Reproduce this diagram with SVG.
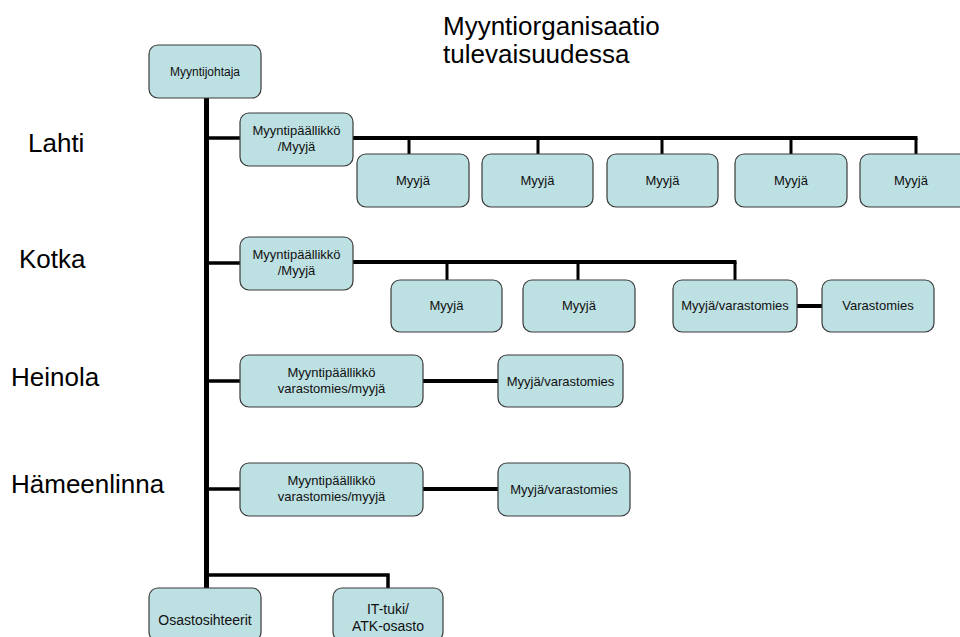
<svg xmlns="http://www.w3.org/2000/svg" width="960" height="637" viewBox="0 0 960 637">
<style>
.box{fill:#bde0e2;stroke:#3a3a3a;stroke-width:1.2}
.t{font-family:"Liberation Sans",Arial,sans-serif;font-size:13px;fill:#111;text-anchor:middle}
.big{font-family:"Liberation Sans",Arial,sans-serif;font-size:26px;fill:#000}
.ln{stroke:#000;fill:none;stroke-linecap:butt;stroke-linejoin:miter}
</style>
<rect width="960" height="637" fill="#fff"/>
<g id="labels">
<text class="big" x="443" y="35">Myyntiorganisaatio</text>
<text class="big" x="443" y="63">tulevaisuudessa</text>
<text class="big" x="28" y="152">Lahti</text>
<text class="big" x="19" y="268">Kotka</text>
<text class="big" x="11" y="386">Heinola</text>
<text class="big" x="11" y="493">Hämeenlinna</text>
</g>
<g id="connectors">
<line class="ln" x1="206.5" y1="98" x2="206.5" y2="588" stroke-width="5"/>
<line class="ln" x1="206" y1="138" x2="240" y2="138" stroke-width="3.5"/>
<line class="ln" x1="206" y1="263" x2="240" y2="263" stroke-width="3.5"/>
<line class="ln" x1="206" y1="381" x2="240" y2="381" stroke-width="3.5"/>
<line class="ln" x1="206" y1="489" x2="240" y2="489" stroke-width="3.5"/>
<polyline class="ln" points="206,575 388,575 388,588" stroke-width="3.5"/>
<line class="ln" x1="353" y1="138" x2="917.5" y2="138" stroke-width="4"/>
<line class="ln" x1="409" y1="138" x2="409" y2="154" stroke-width="3"/>
<line class="ln" x1="538" y1="138" x2="538" y2="154" stroke-width="3"/>
<line class="ln" x1="662" y1="138" x2="662" y2="154" stroke-width="3"/>
<line class="ln" x1="791" y1="138" x2="791" y2="154" stroke-width="3"/>
<line class="ln" x1="916" y1="138" x2="916" y2="154" stroke-width="3"/>
<line class="ln" x1="353" y1="262" x2="736.5" y2="262" stroke-width="4"/>
<line class="ln" x1="447" y1="262" x2="447" y2="280" stroke-width="3"/>
<line class="ln" x1="578" y1="262" x2="578" y2="280" stroke-width="3"/>
<line class="ln" x1="735" y1="262" x2="735" y2="280" stroke-width="3"/>
<line class="ln" x1="797" y1="306" x2="822" y2="306" stroke-width="4"/>
<line class="ln" x1="423" y1="381" x2="498" y2="381" stroke-width="4"/>
<line class="ln" x1="423" y1="489" x2="498" y2="489" stroke-width="4"/>
</g>
<g id="n-myyntijohtaja"><rect class="box" x="149" y="45" width="112" height="53" rx="9"/><text class="t" x="205" y="76" style="font-size:12px">Myyntijohtaja</text></g>
<g id="n-lahti-mp"><rect class="box" x="240" y="113" width="113" height="53" rx="9"/><text class="t" x="296.5" y="135">Myyntipäällikkö</text><text class="t" x="296.5" y="151">/Myyjä</text></g>
<g id="n-lahti-m1"><rect class="box" x="357" y="154" width="112" height="53" rx="9"/><text class="t" x="413" y="185">Myyjä</text></g>
<g id="n-lahti-m2"><rect class="box" x="482" y="154" width="111" height="53" rx="9"/><text class="t" x="537.5" y="185">Myyjä</text></g>
<g id="n-lahti-m3"><rect class="box" x="607" y="154" width="111" height="53" rx="9"/><text class="t" x="662.5" y="185">Myyjä</text></g>
<g id="n-lahti-m4"><rect class="box" x="735" y="154" width="112" height="53" rx="9"/><text class="t" x="791" y="185">Myyjä</text></g>
<g id="n-lahti-m5"><rect class="box" x="860" y="154" width="112" height="53" rx="9"/><text class="t" x="911" y="185">Myyjä</text></g>
<g id="n-kotka-mp"><rect class="box" x="240" y="237" width="113" height="53" rx="9"/><text class="t" x="296.5" y="259">Myyntipäällikkö</text><text class="t" x="296.5" y="275">/Myyjä</text></g>
<g id="n-kotka-m1"><rect class="box" x="391" y="280" width="111" height="52" rx="9"/><text class="t" x="446.5" y="310">Myyjä</text></g>
<g id="n-kotka-m2"><rect class="box" x="523" y="280" width="112" height="52" rx="9"/><text class="t" x="579" y="310">Myyjä</text></g>
<g id="n-kotka-mv"><rect class="box" x="673" y="280" width="124" height="52" rx="9"/><text class="t" x="735" y="310">Myyjä/varastomies</text></g>
<g id="n-kotka-v"><rect class="box" x="822" y="280" width="112" height="52" rx="9"/><text class="t" x="878" y="310">Varastomies</text></g>
<g id="n-heinola-mp"><rect class="box" x="240" y="355" width="183" height="52" rx="9"/><text class="t" x="331.5" y="377">Myyntipäällikkö</text><text class="t" x="331.5" y="393">varastomies/myyjä</text></g>
<g id="n-heinola-mv"><rect class="box" x="498" y="355" width="125" height="52" rx="9"/><text class="t" x="560.5" y="386">Myyjä/varastomies</text></g>
<g id="n-hml-mp"><rect class="box" x="240" y="463" width="183" height="53" rx="9"/><text class="t" x="331.5" y="485">Myyntipäällikkö</text><text class="t" x="331.5" y="501">varastomies/myyjä</text></g>
<g id="n-hml-mv"><rect class="box" x="498" y="463" width="132" height="53" rx="9"/><text class="t" x="564" y="494">Myyjä/varastomies</text></g>
<g id="n-osastosihteerit"><rect class="box" x="149" y="588" width="112" height="53" rx="9"/><text class="t" x="205" y="625" style="font-size:14px">Osastosihteerit</text></g>
<g id="n-it"><rect class="box" x="333" y="588" width="110" height="53" rx="9"/><text class="t" x="388" y="614" style="font-size:14px">IT-tuki/</text><text class="t" x="388" y="631" style="font-size:14px">ATK-osasto</text></g>
</svg>
